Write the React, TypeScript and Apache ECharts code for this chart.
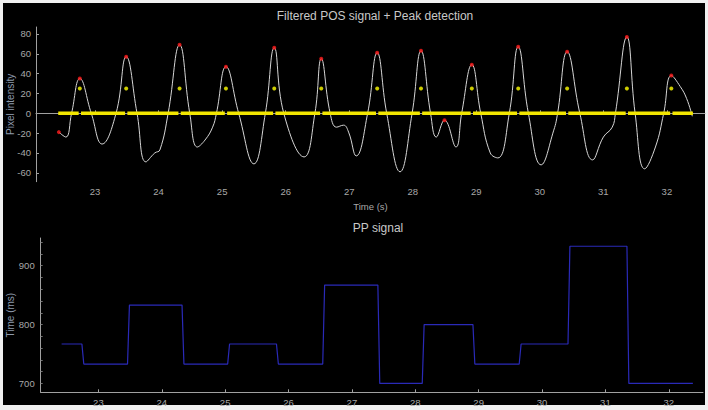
import React, { useEffect, useRef } from 'react';
import * as echarts from 'echarts';

// Filtered POS signal (key samples)
const sigT = [
  22.43, 22.54, 22.63, 22.76, 22.94, 23.11, 23.33, 23.49, 23.66, 23.80,
  23.94, 24.02, 24.15, 24.33, 24.49, 24.61, 24.73, 24.85, 24.91, 25.06,
  25.26, 25.50, 25.68, 25.82, 25.97, 26.29, 26.46, 26.56, 26.70, 26.80,
  26.91, 26.99, 27.11, 27.29, 27.44, 27.59, 27.80, 27.99, 28.13, 28.28,
  28.37, 28.50, 28.68, 28.77, 28.93, 29.07, 29.22, 29.34, 29.52, 29.66,
  29.82, 30.02, 30.22, 30.28, 30.43, 30.63, 30.83, 31.00, 31.14, 31.19,
  31.37, 31.50, 31.65, 31.82, 31.95, 32.07, 32.21, 32.31, 32.40,
];
const sigV = [
  -19, -24, 0, 35, 0, -31, 0, 57, 0, -49,
  -40, -37, 0, 69, 0, -34, -27, -14, 0, 47,
  0, -51, 0, 66, 0, -44, 0, 55, 0, -14,
  -12, -19, -43, 0, 61, 0, -59, 0, 63, 0,
  -24, -7, -34, 0, 49, 0, -40, -45, 0, 67,
  0, -52, -17, 0, 62, 0, -47, -24, -14, 0,
  77, 0, -56, -34, 0, 38, 27, 15, -3,
];

// local maxima (red)
const peakT = [22.43, 22.76, 23.49, 24.33, 25.06, 25.82, 26.56, 27.44, 28.13, 28.50, 28.93, 29.66, 30.43, 31.37, 32.07];
const peakV = [-19, 35, 57, 69, 47, 66, 55, 61, 63, -7, 49, 67, 62, 77, 38];

// detected peaks (yellow)
const detT = [22.76, 23.49, 24.33, 25.06, 25.82, 26.56, 27.44, 28.13, 28.93, 29.66, 30.43, 31.37, 32.07];
const detLevel = 25;
const bandStart = 22.42;
const bandEnd = 32.41;

// PP signal
const ppT = [22.42, 22.74, 23.46, 24.32, 25.04, 25.81, 26.54, 27.41, 28.11, 28.91, 29.64, 30.41, 31.34, 32.38];
const ppV = [767, 733, 833, 733, 767, 733, 867, 700, 800, 733, 767, 933, 700];

const xTicks = [23, 24, 25, 26, 27, 28, 29, 30, 31, 32];
const yTicksTop = [-60, -40, -20, 0, 20, 40, 60, 80];
const yTicksBottom = [700, 800, 900];
const yMinorBottom = [700, 720, 740, 760, 780, 800, 820, 840, 860, 880, 900, 920, 940];

const FONT = 'Liberation Sans';
const AXIS = '#a0a0a0';
const LABEL = '#a8a8a8';
const NAME = '#8d99ab';

export default function App() {
  const ref = useRef<HTMLDivElement>(null);
  useEffect(() => {
    if (!ref.current) return;
    const chart = echarts.init(ref.current, undefined, { renderer: 'svg' });

    const sigData = sigT.map((t, i) => [t, sigV[i]]);
    const peakData = peakT.map((t, i) => [t, peakV[i]]);
    const detData = detT.map((t) => [t, detLevel]);
    const gap = 0.018;
    const band: any[] = [[bandStart, 0]];
    detT.forEach((t) => {
      band.push([t - gap, 0]);
      band.push([t, '-']);
      band.push([t + gap, 0]);
    });
    band.push([bandEnd, 0]);

    const dt = 0.03;
    const pp: number[][] = [];
    ppV.forEach((v, i) => {
      pp.push([i === 0 ? ppT[0] : ppT[i] + dt, v]);
      pp.push([ppT[i + 1], v]);
    });

    const xAxisCommon = (gridIndex: number, min: number, max: number, name: string) => ({
      type: 'value',
      gridIndex,
      min,
      max,
      name,
      nameLocation: 'middle',
      nameGap: 20,
      nameMoveOverlap: false,
      nameTextStyle: { color: LABEL, fontFamily: FONT, fontSize: 9.5 },
      axisLine: { lineStyle: { color: AXIS, width: 1 } },
      axisTick: { show: true, inside: true, length: 3, lineStyle: { color: AXIS }, customValues: xTicks },
      axisLabel: { color: LABEL, fontFamily: FONT, fontSize: 9.5, margin: 5, customValues: xTicks },
      splitLine: { show: false },
    });

    chart.setOption({
      animation: false,
      backgroundColor: '#f0f0f0',
      graphic: [
        { type: 'rect', z: -1, silent: true, shape: { x: 3, y: 3, width: 702, height: 402 }, style: { fill: '#000000' } },
        { type: 'text', x: 375, y: 16, style: { text: 'Filtered POS signal + Peak detection', fill: '#c8c8c8', font: `12px "${FONT}"`, textAlign: 'center', textVerticalAlign: 'middle' } },
        { type: 'text', x: 378, y: 228, style: { text: 'PP signal', fill: '#c8c8c8', font: `12px "${FONT}"`, textAlign: 'center', textVerticalAlign: 'middle' } },
      ],
      grid: [
        { left: 36, top: 27, width: 669, height: 154.7, containLabel: false, outerBoundsMode: 'none' },
        { left: 40.7, top: 238, width: 662.3, height: 154.3, containLabel: false, outerBoundsMode: 'none' },
      ],
      xAxis: [xAxisCommon(0, 22.07, 32.6, 'Time (s)'), xAxisCommon(1, 22.09, 32.54, '')],
      yAxis: [
        {
          type: 'value',
          gridIndex: 0,
          min: -69,
          max: 87,
          name: 'Pixel intensity',
          nameLocation: 'middle',
          nameGap: 21,
          nameMoveOverlap: false,
          nameTextStyle: { color: NAME, fontFamily: FONT, fontSize: 10 },
          axisLine: { show: true, lineStyle: { color: AXIS } },
          axisTick: { show: true, inside: true, length: 3, lineStyle: { color: AXIS }, customValues: yTicksTop },
          axisLabel: { color: LABEL, fontFamily: FONT, fontSize: 9.5, margin: 5, customValues: yTicksTop },
          splitLine: { show: false },
        },
        {
          type: 'value',
          gridIndex: 1,
          min: 685,
          max: 947,
          name: 'Time (ms)',
          nameLocation: 'middle',
          nameGap: 25,
          nameMoveOverlap: false,
          nameTextStyle: { color: NAME, fontFamily: FONT, fontSize: 10 },
          axisLine: { show: true, lineStyle: { color: AXIS } },
          axisTick: { show: true, inside: true, length: 2, lineStyle: { color: '#707070' }, customValues: yMinorBottom },
          axisLabel: { color: LABEL, fontFamily: FONT, fontSize: 9.5, margin: 6, customValues: yTicksBottom },
          splitLine: { show: false },
        },
      ],
      series: [
        {
          type: 'line',
          xAxisIndex: 0,
          yAxisIndex: 0,
          data: sigData,
          smooth: 0.45,
          showSymbol: false,
          lineStyle: { color: '#d6d6d6', width: 1 },
          z: 2,
        },
        {
          type: 'line',
          xAxisIndex: 0,
          yAxisIndex: 0,
          data: band,
          showSymbol: false,
          connectNulls: false,
          lineStyle: { color: '#f2e600', width: 3.5, cap: 'butt' },
          z: 3,
        },
        {
          type: 'scatter',
          xAxisIndex: 0,
          yAxisIndex: 0,
          data: detData,
          symbolSize: 4,
          itemStyle: { color: '#ffff00' },
          z: 4,
        },
        {
          type: 'scatter',
          xAxisIndex: 0,
          yAxisIndex: 0,
          data: peakData,
          symbolSize: 4,
          itemStyle: { color: '#ff1a1a' },
          z: 5,
        },
        {
          type: 'line',
          xAxisIndex: 1,
          yAxisIndex: 1,
          data: pp,
          showSymbol: false,
          lineStyle: { color: '#2a2ab8', width: 1.2 },
          z: 2,
        },
      ],
    });
    return () => chart.dispose();
  }, []);

  return <div ref={ref} style={{ position: 'fixed', left: 0, top: 0, width: 708, height: 410 }} />;
}
